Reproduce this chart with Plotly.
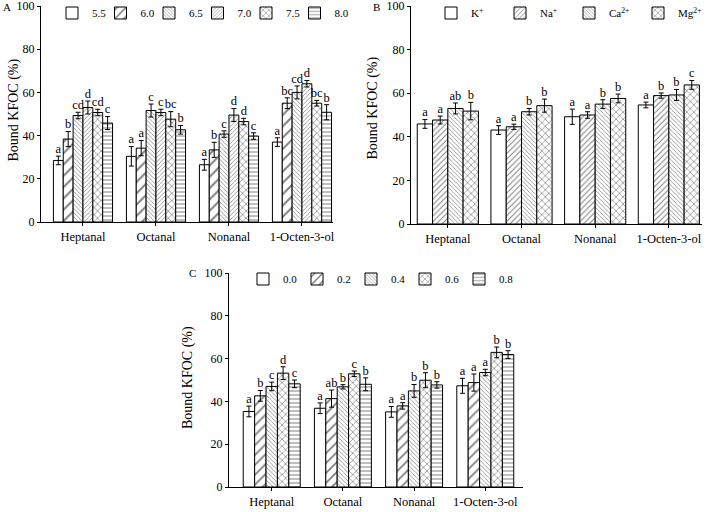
import plotly.graph_objects as go

categories = ["Heptanal", "Octanal", "Nonanal", "1-Octen-3-ol"]

# Panel A: pH
a_series = ["5.5", "6.0", "6.5", "7.0", "7.5", "8.0"]
a_values = [
    [28.5, 30.4, 26.5, 37.0],
    [38.4, 34.2, 33.4, 55.0],
    [49.3, 51.6, 40.7, 60.0],
    [53.0, 50.7, 49.5, 64.0],
    [50.7, 47.6, 46.5, 55.0],
    [45.8, 42.7, 39.8, 50.8],
]
a_errors = [
    [2.0, 4.5, 2.5, 2.0],
    [3.5, 3.5, 3.5, 2.5],
    [1.5, 3.0, 1.5, 3.0],
    [3.0, 1.5, 3.0, 1.5],
    [1.5, 3.5, 1.5, 1.3],
    [3.0, 2.0, 1.5, 3.5],
]
a_letters = [
    ["a", "a", "a", "a"],
    ["b", "a", "b", "bc"],
    ["cd", "c", "c", "cd"],
    ["d", "c", "d", "d"],
    ["cd", "bc", "d", "bc"],
    ["c", "b", "c", "b"],
]

# Panel B: metal ions
b_series = ["K<sup>+</sup>", "Na<sup>+</sup>", "Ca<sup>2+</sup>", "Mg<sup>2+</sup>"]
b_values = [
    [45.9, 43.1, 49.2, 54.6],
    [47.7, 44.6, 50.0, 58.9],
    [53.0, 51.5, 55.0, 59.2],
    [51.8, 54.3, 57.6, 63.8],
]
b_errors = [
    [2.0, 2.0, 3.5, 1.3],
    [1.8, 1.2, 1.5, 1.2],
    [2.5, 1.5, 2.0, 2.5],
    [4.0, 3.0, 2.0, 2.0],
]
b_letters = [
    ["a", "a", "a", "a"],
    ["a", "a", "a", "b"],
    ["ab", "b", "b", "b"],
    ["b", "b", "b", "c"],
]

# Panel C: concentration
c_series = ["0.0", "0.2", "0.4", "0.6", "0.8"]
c_values = [
    [35.3, 36.8, 35.1, 47.3],
    [42.6, 41.3, 37.9, 48.8],
    [47.0, 46.8, 44.9, 53.5],
    [53.2, 52.9, 49.9, 62.9],
    [48.2, 48.0, 47.7, 61.9],
]
c_errors = [
    [2.5, 2.5, 2.5, 3.5],
    [2.5, 4.0, 1.5, 4.0],
    [2.0, 1.0, 3.0, 1.5],
    [3.0, 1.3, 3.5, 2.5],
    [1.8, 3.0, 1.5, 1.8],
]
c_letters = [
    ["a", "a", "a", "a"],
    ["b", "ab", "a", "a"],
    ["c", "b", "b", "a"],
    ["d", "c", "b", "b"],
    ["c", "b", "b", "b"],
]

y_title = "Bound KFOC (%)"
panel_labels = ["A", "B", "C"]

FONT = "Liberation Serif"

a_patterns = [("", 0), ("/", 8), ("\\", 3), ("/", 3), ("x", 5), ("-", 4)]
b_patterns = [("", 0), ("/", 4), ("\\", 3), ("x", 5)]
c_patterns = [("", 0), ("/", 7), ("\\", 3), ("x", 5), ("-", 4)]

fig = go.Figure()


def add_panel(series, values, errors, letters, patterns, xa, ya, legend, frac):
    n = len(series)
    w = frac / n
    lx, ly, lt = [], [], []
    for j, name in enumerate(series):
        xs = [i + (j - (n - 1) / 2) * w for i in range(len(categories))]
        shape, size = patterns[j]
        fig.add_trace(go.Bar(
            x=xs, y=values[j], width=w, name=name,
            xaxis=xa, yaxis=ya, legend=legend,
            marker=dict(color="white", line=dict(color="black", width=1),
                        pattern=dict(shape=shape, size=size if size else 8,
                                     fgcolor="black", bgcolor="white", solidity=0.25)),
            error_y=dict(type="data", array=errors[j], color="black", thickness=1, width=2.5),
        ))
        for i in range(len(categories)):
            lx.append(xs[i])
            ly.append(values[j][i] + errors[j][i])
            lt.append(letters[j][i])
    # invisible spacer entry so the last legend label is not clipped
    fig.add_trace(go.Bar(
        x=[None], y=[None], name="\u00a0", xaxis=xa, yaxis=ya, legend=legend,
        marker=dict(color="rgba(0,0,0,0)", line=dict(width=0)), hoverinfo="skip",
    ))
    fig.add_trace(go.Scatter(
        x=lx, y=ly, text=lt, mode="text", textposition="top center",
        textfont=dict(family=FONT, size=12.5, color="black"),
        xaxis=xa, yaxis=ya, showlegend=False, hoverinfo="skip", cliponaxis=False,
    ))


add_panel(a_series, a_values, a_errors, a_letters, a_patterns, "x", "y", "legend", 0.81)
add_panel(b_series, b_values, b_errors, b_letters, b_patterns, "x2", "y2", "legend2", 0.83)
add_panel(c_series, c_values, c_errors, c_letters, c_patterns, "x3", "y3", "legend3", 0.80)

W, H = 708, 512


def xdom(l, r):
    return [l / W, r / W]


def ydom(b, t):
    return [1 - b / H, 1 - t / H]


axis_common = dict(showline=True, linecolor="black", linewidth=1, ticks="outside",
                   tickcolor="black", ticklen=3, showgrid=False, zeroline=False,
                   ticklabeloverflow="allow",
                   tickfont=dict(family=FONT, size=12, color="black"))

xr = {"x": ([-0.575, 3.425], xdom(41, 333)),
      "x2": ([-0.50, 3.45], xdom(411, 702)),
      "x3": ([-0.60, 3.53], xdom(229, 523))}
yd = {"y": ydom(222, 6), "y2": ydom(224, 6), "y3": ydom(487, 273)}

for k, (rng, dom) in xr.items():
    key = "xaxis" if k == "x" else "xaxis" + k[1:]
    yk = "y" + k[1:]
    fig.layout[key] = dict(axis_common, range=rng, domain=dom, anchor=yk,
                           tickvals=[0, 1, 2, 3], ticktext=categories,
                           tickfont=dict(family=FONT, size=12.5, color="black"))
for k, dom in yd.items():
    key = "yaxis" if k == "y" else "yaxis" + k[1:]
    xk = "x" + k[1:]
    fig.layout[key] = dict(axis_common, range=[0, 100], domain=dom, anchor=xk,
                           tickvals=[0, 20, 40, 60, 80, 100])

title_pos = [(13.5, 110), (372.5, 108), (188, 378)]
label_pos = [(6.5, 7), (377, 7), (192, 273)]
annotations = []
for (tx, ty) in title_pos:
    annotations.append(dict(text=y_title, x=tx / W, y=1 - ty / H, xref="paper", yref="paper",
                            showarrow=False, textangle=-90, xanchor="center", yanchor="middle",
                            font=dict(family=FONT, size=14, color="black")))
for lab, (lx_, ly_) in zip(panel_labels, label_pos):
    annotations.append(dict(text=lab, x=lx_ / W, y=1 - ly_ / H, xref="paper", yref="paper",
                            showarrow=False, xanchor="center", yanchor="middle",
                            font=dict(family=FONT, size=11, color="black")))

leg_common = dict(orientation="h", yanchor="middle", xanchor="left", bgcolor="rgba(0,0,0,0)",
                  font=dict(family=FONT, size=11, color="black"), itemwidth=30,
                  tracegroupgap=0, entrywidthmode="pixels")
fig.update_layout(
    width=W, height=H, margin=dict(l=0, r=0, t=0, b=0, autoexpand=False),
    paper_bgcolor="white", plot_bgcolor="white",
    barmode="overlay", showlegend=True,
    font=dict(family=FONT, color="black"),
    legend=dict(leg_common, x=52 / W, y=1 - 13 / H, entrywidth=3.5),
    legend2=dict(leg_common, x=431 / W, y=1 - 13 / H, entrywidth=24),
    legend3=dict(leg_common, x=243 / W, y=1 - 279 / H, entrywidth=9),
    annotations=annotations,
)

fig.write_html("out.html", config={"displayModeBar": False},
               post_script="document.body.style.margin='0px';document.body.style.overflow='hidden';")
